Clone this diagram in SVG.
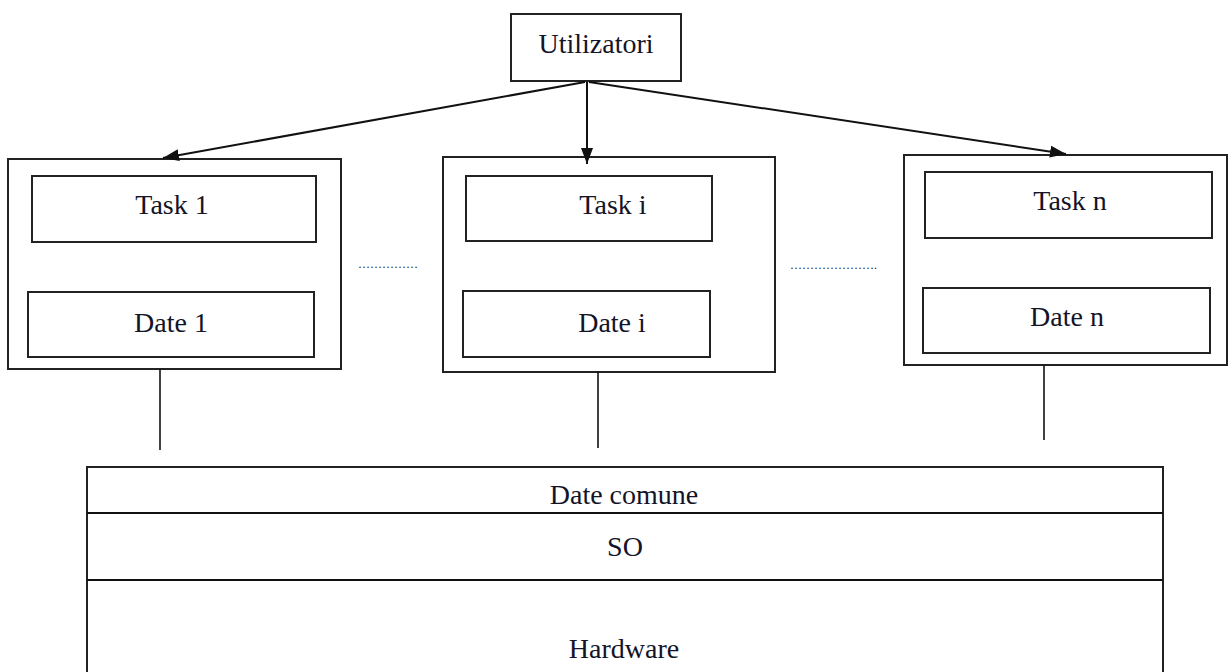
<svg xmlns="http://www.w3.org/2000/svg" width="1228" height="672" viewBox="0 0 1228 672">
<style>
.box{fill:#fff;stroke:#222;stroke-width:2}
.t{font-family:"Liberation Serif","Times New Roman",serif;font-size:28px;fill:#141428;text-anchor:middle}
.dots{font-family:"Liberation Serif",serif;font-size:12px;fill:#222}
.ln{stroke:#111;stroke-width:1.6;fill:none}
.ar{stroke:#111;stroke-width:2;fill:none;marker-end:url(#ah)}
</style>
<defs>
<marker id="ah" viewBox="0 0 16 12" refX="16" refY="6" markerWidth="16" markerHeight="12" markerUnits="userSpaceOnUse" orient="auto">
<path d="M0,0 L16,6 L0,12 Z" fill="#111"/>
</marker>
</defs>
<rect width="1228" height="672" fill="#fff"/>
<g id="utilizatori">
<rect class="box" x="511" y="14" width="170" height="67"/>
<text class="t" x="596" y="53">Utilizatori</text>
</g>
<g id="proc1">
<rect class="box" x="8" y="159" width="333" height="210"/>
<rect class="box" x="32" y="176" width="284" height="66"/>
<text class="t" x="172" y="214">Task 1</text>
<rect class="box" x="28" y="292" width="286" height="65"/>
<text class="t" x="171" y="332">Date 1</text>
</g>
<g id="proci">
<rect class="box" x="443" y="157" width="332" height="215"/>
<rect class="box" x="466" y="176" width="246" height="65"/>
<text class="t" x="613" y="214">Task i</text>
<rect class="box" x="463" y="291" width="247" height="66"/>
<text class="t" x="612" y="332">Date i</text>
</g>
<g id="procn">
<rect class="box" x="904" y="155" width="323" height="210"/>
<rect class="box" x="925" y="172" width="287" height="66"/>
<text class="t" x="1070" y="210">Task n</text>
<rect class="box" x="923" y="288" width="287" height="65"/>
<text class="t" x="1067" y="326">Date n</text>
</g>
<g id="dots">
<text class="dots" x="358" y="268">……………</text>
<text class="dots" x="790" y="269">………………….</text>
</g>
<g id="common">
<rect class="box" x="87" y="467" width="1076" height="220"/>
<line class="ln" x1="87" y1="513" x2="1163" y2="513" style="stroke-width:2"/>
<line class="ln" x1="87" y1="580" x2="1163" y2="580" style="stroke-width:2"/>
<text class="t" x="624" y="504">Date comune</text>
<text class="t" x="625" y="556">SO</text>
<text class="t" x="624" y="658">Hardware</text>
</g>
<g id="connectors">
<line class="ar" x1="585" y1="82" x2="163" y2="158"/>
<line class="ar" x1="587" y1="82" x2="587" y2="164"/>
<line class="ar" x1="589" y1="82" x2="1066" y2="154"/>
<line class="ln" x1="160" y1="369" x2="160" y2="450"/>
<line class="ln" x1="598" y1="372" x2="598" y2="448"/>
<line class="ln" x1="1044" y1="365" x2="1044" y2="440"/>
</g>
</svg>
